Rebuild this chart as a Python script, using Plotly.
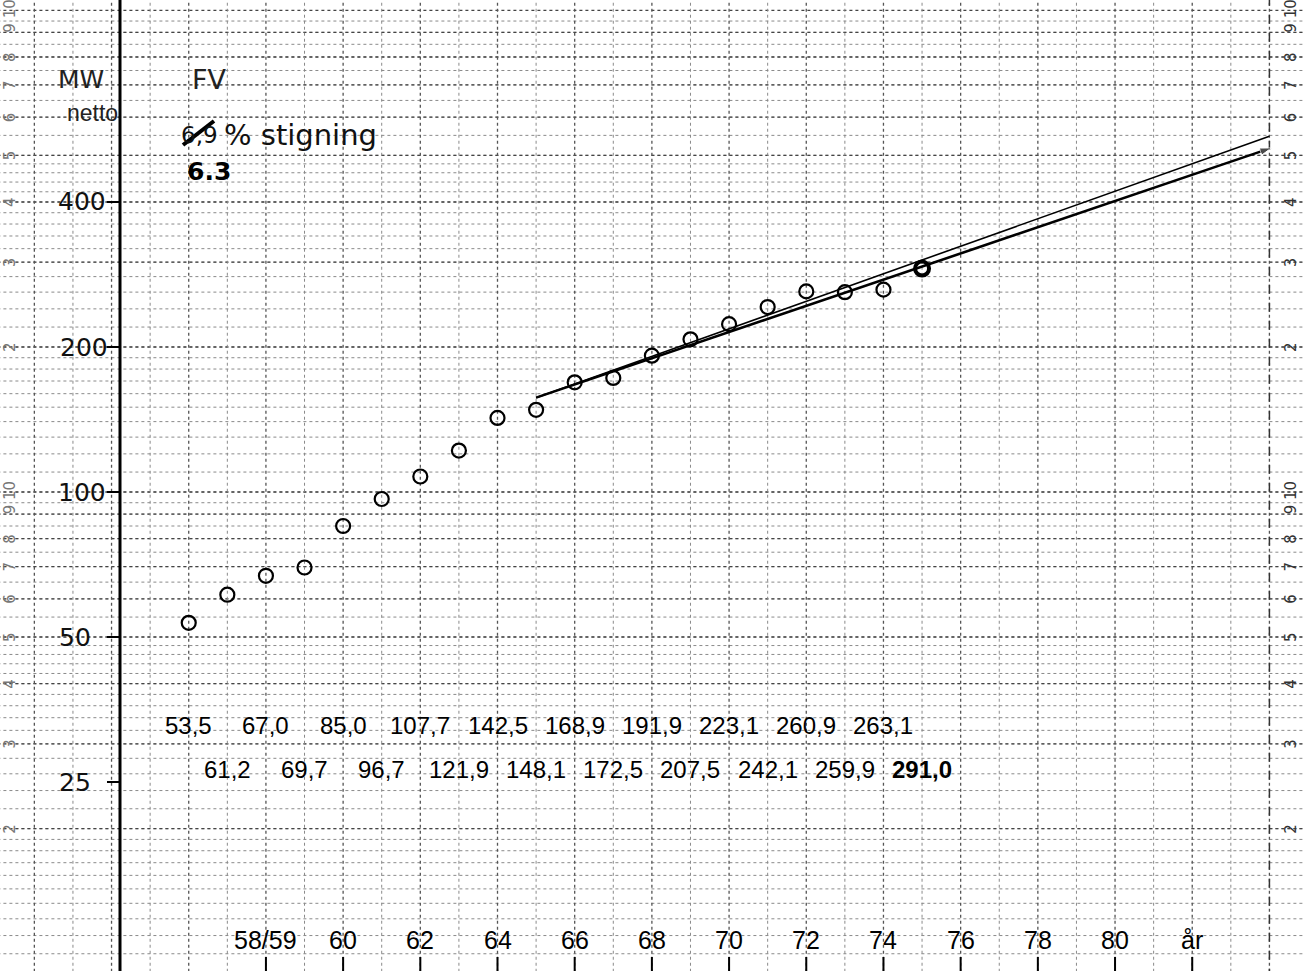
import math
import plotly.graph_objects as go

# ---------------- data ----------------
years = [56, 57, 58, 59, 60, 61, 62, 63, 64, 65,
         66, 67, 68, 69, 70, 71, 72, 73, 74, 75]
mw_netto = [53.5, 61.2, 67.0, 69.7, 85.0, 96.7, 107.7, 121.9, 142.5, 148.1,
            168.9, 172.5, 191.9, 207.5, 223.1, 242.1, 260.9, 259.9, 263.1, 291.0]

trend_69_x = [65, 84.0]      # thin line (6,9 % stigning)
trend_69_y = [157, 548]
trend_63_x = [65, 84.05]     # thick line (6.3 %)
trend_63_y = [157, 518]

x_tick_vals = [58, 60, 62, 64, 66, 68, 70, 72, 74, 76, 78, 80, 82]
x_tick_text = ["58/59", "60", "62", "64", "66", "68", "70", "72", "74", "76", "78", "80", "år"]
y_tick_vals = [400, 200, 100, 50, 25]
y_tick_text = ["400", "200", "100", "50", "25"]
cycle_digits = ["2", "3", "4", "5", "6", "7", "8", "9 10"]
cycle_digit_vals = [2, 3, 4, 5, 6, 7, 8, 9.7]

# ---------------- geometry ----------------
W, H = 1303, 971
X0, X1 = 51.11, 84.87
Y0, Y1 = 1.0056, 3.0214          # log10 range


def xp(px):
    return px / W


def yp(py):
    return 1 - py / H


def px_to_year(px):
    return X0 + (X1 - X0) * px / W


# graph-paper grid values
minor_h, major_h = [], []
for dec in (10, 100):
    for k in range(10, 20):
        minor_h.append(dec * k / 10)
    for k in range(20, 50, 2):
        minor_h.append(dec * k / 10)
    for k in range(50, 100, 5):
        minor_h.append(dec * k / 10)
    for k in range(1, 10):
        major_h.append(dec * k)
major_h.append(1000)

fig = go.Figure()


def hlines(vals, color, dash, width, xa=X0 - 1, xb=X1 + 1):
    xs, ys = [], []
    for v in vals:
        xs += [xa, xb, None]
        ys += [v, v, None]
    fig.add_trace(go.Scatter(x=xs, y=ys, mode="lines", hoverinfo="skip",
                             line=dict(color=color, width=width, dash=dash),
                             showlegend=False))


def vlines(vals, color, dash, width):
    xs, ys = [], []
    for v in vals:
        xs += [v, v, None]
        ys += [9, 1200, None]
    fig.add_trace(go.Scatter(x=xs, y=ys, mode="lines", hoverinfo="skip",
                             line=dict(color=color, width=width, dash=dash),
                             showlegend=False))


hlines(minor_h, "#8a8a8a", "dot", 1)
hlines(major_h, "#444444", "dot", 1.3)
vlines([y for y in range(52, 85) if y % 2], "#8a8a8a", "dot", 1)
vlines([y for y in range(52, 85) if y % 2 == 0], "#555555", "dot", 1.3)
vlines([84], "#333333", "dash", 1.5)

# y tick dashes left of the axis line
hlines(y_tick_vals, "black", "solid", 2, xa=px_to_year(107), xb=px_to_year(121))

# trend lines
fig.add_trace(go.Scatter(x=trend_69_x, y=trend_69_y, mode="lines",
                         line=dict(color="black", width=1.6),
                         showlegend=False, hoverinfo="skip"))
fig.add_trace(go.Scatter(x=trend_63_x, y=trend_63_y, mode="lines+markers",
                         line=dict(color="black", width=2.6),
                         marker=dict(symbol="arrow", size=[0, 12], color="black",
                                     angleref="previous"),
                         showlegend=False, hoverinfo="skip"))

# data points
lw = [2.2] * len(years)
lw[-1] = 4
fig.add_trace(go.Scatter(x=years, y=mw_netto, mode="markers",
                         marker=dict(symbol="circle-open", size=14,
                                     color="black", line=dict(width=lw, color="black")),
                         showlegend=False))

ann = []
DATA_FONT = "Liberation Sans, Arial, sans-serif"
# value labels in two rows
for i, (yr, v) in enumerate(zip(years, mw_netto)):
    txt = f"{v:.1f}".replace(".", ",")
    if i == len(years) - 1:
        txt = f"<b>{txt}</b>"
    row_val = 32.7 if i % 2 == 0 else 26.5
    ann.append(dict(x=yr, y=math.log10(row_val), xref="x", yref="y", text=txt,
                    showarrow=False, xanchor="center", yanchor="middle",
                    font=dict(family=DATA_FONT, size=24, color="black")))

# x tick labels
for v, t in zip(x_tick_vals, x_tick_text):
    ann.append(dict(x=v, y=math.log10(11.75), xref="x", yref="y", text=t,
                    showarrow=False, xanchor="center", yanchor="middle",
                    font=dict(family=DATA_FONT, size=25, color="black")))

# y tick labels
y_label_right = [108, 110, 108, 93, 93]
for v, t, rpx in zip(y_tick_vals, y_tick_text, y_label_right):
    ann.append(dict(x=xp(rpx), y=math.log10(v), xref="paper", yref="y", text=t,
                    showarrow=False, xanchor="right", yanchor="middle",
                    font=dict(family="DejaVu Sans, Liberation Sans", size=25, color="#111")))

# rotated cycle digits (graph-paper print) on both sides
for dec in (10, 100):
    for t, v in zip(cycle_digits, cycle_digit_vals):
        for px, col in ((1291, "#333"), (10, "#777")):
            ann.append(dict(x=xp(px), y=math.log10(v * dec), xref="paper", yref="y",
                            text=t, showarrow=False, textangle=-90,
                            xanchor="center", yanchor="middle",
                            font=dict(family="DejaVu Sans", size=15, color=col)))


# headings
def head(px, py, text, size, anchor="center", color="#222", family="DejaVu Sans"):
    return dict(x=xp(px), y=yp(py), xref="paper", yref="paper", text=text,
                showarrow=False, xanchor=anchor, yanchor="middle",
                font=dict(family=family, size=size, color=color))


ann += [
    head(81, 79, "MW", 25),
    head(93, 113, "netto", 23, family="Liberation Sans, Arial"),
    head(209, 79, "FV", 27),
    head(220, 135, "6,9", 23, anchor="right", color="#111"),
    head(222, 135, "% stigning", 29, anchor="left", color="#111"),
    head(209, 172, "<b>6.3</b>", 25, color="black"),
]

shapes = []
# main vertical axis line
shapes.append(dict(type="line", xref="paper", yref="paper", x0=xp(120), x1=xp(120),
                   y0=0, y1=1, line=dict(color="black", width=3)))
# strike-through over 6,9
shapes.append(dict(type="line", xref="paper", yref="paper", x0=xp(183), y0=yp(145),
                   x1=xp(214), y1=yp(121), line=dict(color="black", width=4)))
# bottom ticks
for v in x_tick_vals:
    shapes.append(dict(type="line", xref="x", yref="paper", x0=v, x1=v,
                       y0=0, y1=14 / H, line=dict(color="black", width=2)))

fig.update_layout(
    width=W, height=H,
    margin=dict(l=0, r=0, t=0, b=0),
    paper_bgcolor="white", plot_bgcolor="white",
    xaxis=dict(range=[X0, X1], showgrid=False, zeroline=False, showticklabels=False,
               ticks="", showline=False, fixedrange=True),
    yaxis=dict(type="log", range=[Y0, Y1], showgrid=False, zeroline=False,
               showticklabels=False, ticks="", showline=False, fixedrange=True),
    annotations=ann, shapes=shapes, showlegend=False,
)

fig.write_html("out.html", config={"displayModeBar": False},
               post_script="document.body.style.margin='0';document.body.style.overflow='hidden';")
